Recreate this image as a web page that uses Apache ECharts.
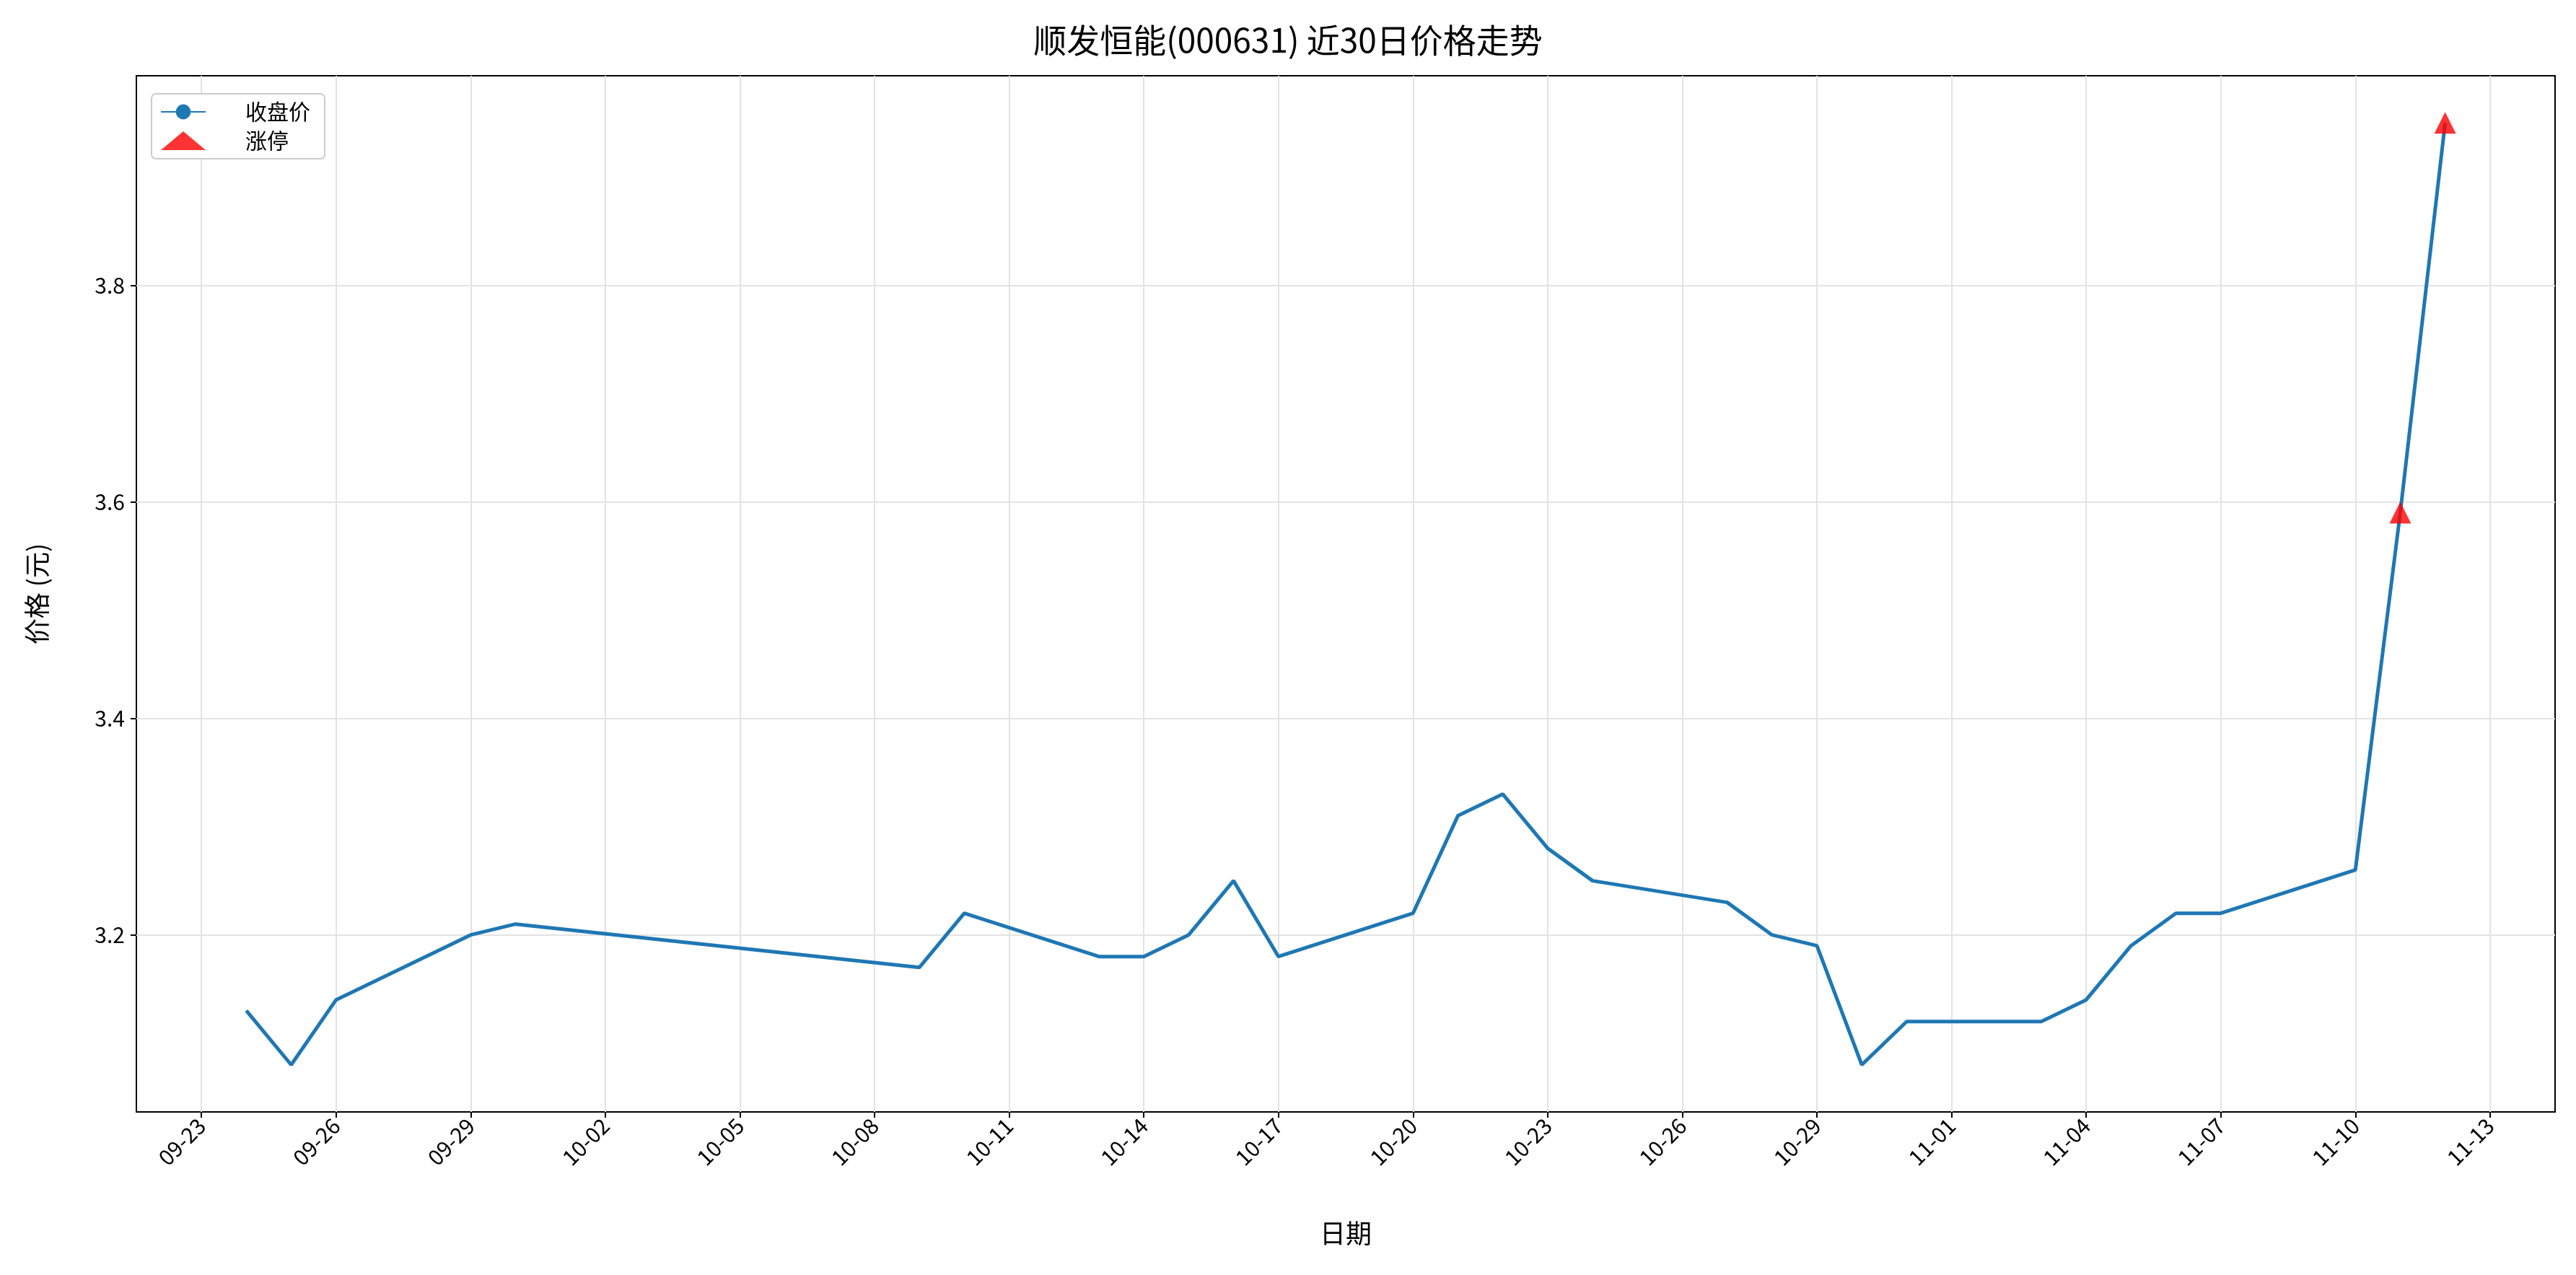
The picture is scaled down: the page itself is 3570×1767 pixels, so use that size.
<!DOCTYPE html>
<html>
<head>
<meta charset="utf-8">
<script src="https://cdn.jsdelivr.net/npm/echarts@6/dist/echarts.min.js"></script>
<style>html,body{margin:0;padding:0;background:#fff}#chart{width:3570px;height:1767px}</style>
</head>
<body>
<div id="chart"></div>
<script>
var dates = ['09-24','09-25','09-26','09-29','09-30','10-09','10-10','10-13','10-14','10-15',
  '10-16','10-17','10-20','10-21','10-22','10-23','10-24','10-27','10-28','10-29',
  '10-30','10-31','11-03','11-04','11-05','11-06','11-07','11-10','11-11','11-12'];
var closes = [3.13,3.08,3.14,3.20,3.21,3.17,3.22,3.18,3.18,3.20,
  3.25,3.18,3.22,3.31,3.33,3.28,3.25,3.23,3.20,3.19,
  3.08,3.12,3.12,3.14,3.19,3.22,3.22,3.26,3.59,3.95];
var limitUpDates = ['11-11','11-12'];
var tickDates = ['09-23','09-26','09-29','10-02','10-05','10-08','10-11','10-14','10-17','10-20',
  '10-23','10-26','10-29','11-01','11-04','11-07','11-10','11-13'];
var yTicks = [3.2,3.4,3.6,3.8];

// days since 09-23 (2025)
function dayNum(md) {
  var p = md.split('-');
  var t = Date.UTC(2025, +p[0] - 1, +p[1]);
  return Math.round((t - Date.UTC(2025, 8, 23)) / 86400000);
}
function label(v) {
  var d = new Date(Date.UTC(2025, 8, 23) + Math.round(v) * 86400000);
  var m = ('0' + (d.getUTCMonth() + 1)).slice(-2), dd = ('0' + d.getUTCDate()).slice(-2);
  return m + '-' + dd;
}
var lineData = dates.map(function (d, i) { return [dayNum(d), closes[i]]; });
var upData = limitUpDates.map(function (d) { return [dayNum(d), closes[dates.indexOf(d)]]; });
var tickVals = tickDates.map(dayNum);

var font = '"Noto Sans CJK SC", "DejaVu Sans", sans-serif';
var chart = echarts.init(document.getElementById('chart'));
chart.setOption({
  animation: false,
  textStyle: { fontFamily: font },
  title: {
    text: '顺发恒能(000631) 近30日价格走势', left: 'center', top: 28,
    textStyle: { fontSize: 46, fontWeight: 'normal', color: '#000', fontFamily: font }
  },
  grid: { left: 189, right: 29, top: 105, bottom: 226, show: true, borderColor: '#000', borderWidth: 2 },
  legend: {
    left: 210, top: 130, orient: 'vertical', itemGap: 10,
    backgroundColor: '#fff', borderColor: '#ccc', borderWidth: 2, borderRadius: 6, padding: [10, 20, 10, 12],
    textStyle: { fontSize: 30, color: '#000', fontFamily: font, padding: [0, 0, 0, 50] },
    data: [
      { name: '收盘价' },
      { name: '涨停', icon: 'triangle', itemStyle: { color: 'red' } }
    ],
    itemWidth: 62, itemHeight: 26
  },
  xAxis: {
    type: 'value', min: -1.45, max: 52.45,
    name: '日期', nameLocation: 'middle', nameGap: 150,
    nameTextStyle: { fontSize: 36, color: '#000' },
    axisLine: { show: false, onZero: false },
    axisTick: { show: true, customValues: tickVals, length: 8, lineStyle: { color: '#000', width: 2 } },
    axisLabel: { customValues: tickVals, formatter: label, rotate: 45, fontSize: 30, color: '#000', margin: 14 },
    splitLine: { show: true, lineStyle: { color: '#e3e3e3', width: 2 } }
  },
  yAxis: {
    type: 'value', min: 3.0365, max: 3.9935,
    name: '价格 (元)', nameLocation: 'middle', nameGap: 120, nameRotate: 90,
    nameTextStyle: { fontSize: 36, color: '#000' },
    axisLine: { show: false, onZero: false },
    axisTick: { show: true, customValues: yTicks, length: 8, lineStyle: { color: '#000', width: 2 } },
    axisLabel: { customValues: yTicks, formatter: function (v) { return v.toFixed(1); }, fontSize: 30, color: '#000', margin: 16 },
    splitLine: { show: true, lineStyle: { color: '#e3e3e3', width: 2 } }
  },
  series: [
    {
      name: '收盘价', type: 'line', data: lineData, symbol: 'none',
      lineStyle: { color: '#1f77b4', width: 5 }, itemStyle: { color: '#1f77b4' }
    },
    {
      name: '涨停', type: 'scatter', data: upData, symbol: 'triangle', symbolSize: 30,
      itemStyle: { color: 'red' }, z: 5
    }
  ]
});
</script>
</body>
</html>
